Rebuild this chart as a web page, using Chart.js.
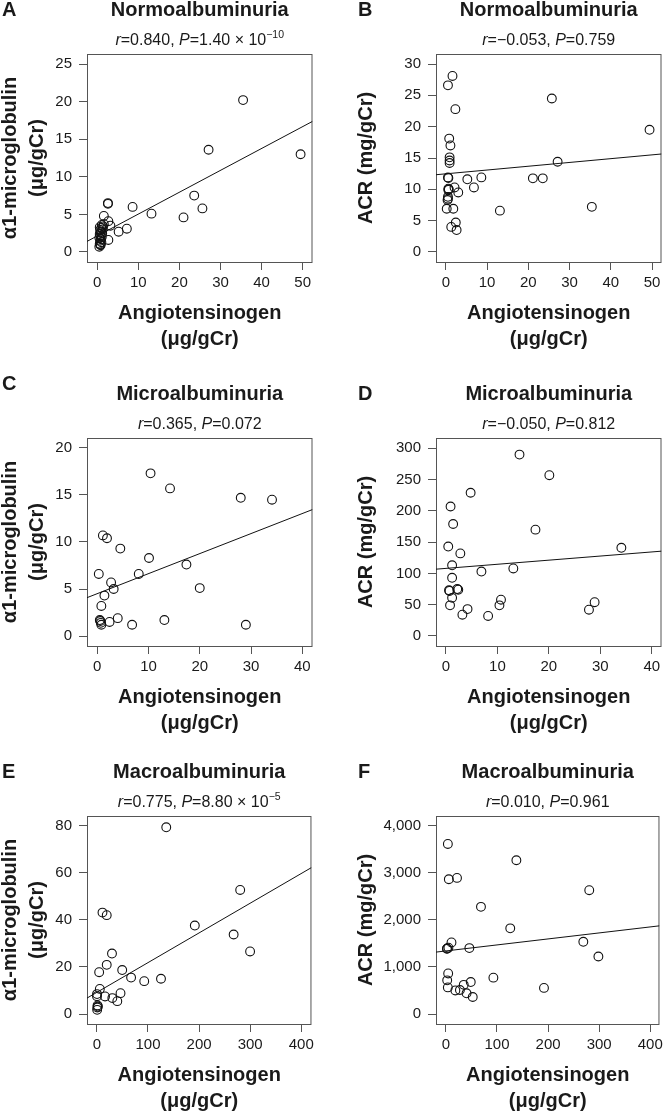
<!DOCTYPE html>
<html>
<head>
<meta charset="utf-8">
<script src="https://cdn.jsdelivr.net/npm/chart.js@4.4.1/dist/chart.umd.min.js"></script>
<style>
  html, body { margin: 0; padding: 0; background: #fff; overflow: hidden; }
  #page { position: relative; width: 667px; height: 1111px; overflow: hidden; }
  #page canvas { position: absolute; }
</style>
</head>
<body>
<div id="page">
  <canvas id="chartA" width="318" height="361" style="left:0;top:-12px"></canvas>
  <canvas id="chartB" width="318" height="361" style="left:349px;top:-12px"></canvas>
  <canvas id="chartC" width="318" height="361" style="left:0;top:372px"></canvas>
  <canvas id="chartD" width="318" height="361" style="left:349px;top:372px"></canvas>
  <canvas id="chartE" width="318" height="361" style="left:0;top:750px"></canvas>
  <canvas id="chartF" width="318" height="361" style="left:349px;top:750px"></canvas>
</div>
<script>
// ---- Data ----

// A: normoalbuminuria, α1-microglobulin vs angiotensinogen
const angA = [35.5, 49.5, 27.1, 23.6, 25.6, 21.0, 13.2, 8.6, 7.2, 5.2, 2.7, 3.2, 2.7, 2.6, 2.6, 1.6,
              0.5, 0.8, 0.6, 1.0, 0.7, 0.9, 0.5, 1.1, 0.8, 0.6, 1.2, 0.9, 0.7, 1.3, 1.0, 0.6, 1.4, 1.1, 0.8, 1.6];
const a1mA = [20.2, 13.0, 13.6, 7.5, 5.8, 4.6, 5.1, 6.0, 3.1, 2.7, 1.6, 3.5, 4.1, 6.4, 6.5, 4.8,
              0.7, 0.9, 1.1, 1.3, 1.5, 1.7, 1.9, 2.0, 2.2, 2.4, 2.5, 2.7, 2.9, 3.0, 3.2, 3.3, 3.4, 3.6, 1.0, 3.7];
const fitXA = [-2.5, 52.4];
const fitYA = [1.41, 17.37];

// B: normoalbuminuria, ACR vs angiotensinogen
const angB = [1.6, 0.5, 2.3, 25.7, 49.4, 0.8, 1.1, 0.9, 0.9, 0.9, 27.1, 0.5, 5.2, 8.6, 21.1, 23.5,
              6.8, 2.1, 0.6, 0.6, 3.0, 0.5, 0.5, 0.4, 13.1, 35.4, 0.2, 1.8, 2.4, 1.3, 2.6, 0.7, 0.6];
const acrB = [28.1, 26.6, 22.8, 24.5, 19.5, 18.1, 17.0, 15.1, 14.6, 14.2, 14.4, 11.9, 11.6, 11.9, 11.75, 11.75,
              10.3, 10.3, 10.1, 9.9, 9.5, 8.8, 8.5, 8.3, 6.6, 7.2, 6.9, 6.9, 4.7, 4.0, 3.5, 10.0, 11.8];
const fitXB = [-2.4, 52.3];
const fitYB = [12.33, 15.64];

// C: microalbuminuria, α1-microglobulin vs angiotensinogen
const angC = [10.4, 14.2, 28.0, 34.1, 1.1, 1.9, 4.5, 10.1, 17.4, 0.3, 8.1, 2.7, 3.2, 20.0, 1.4, 0.8,
              0.5, 0.7, 0.8, 2.4, 4.0, 6.8, 13.1, 29.0, 0.6];
const a1mC = [17.3, 15.7, 14.7, 14.5, 10.7, 10.4, 9.3, 8.3, 7.6, 6.6, 6.6, 5.7, 5.0, 5.1, 4.3, 3.2,
              1.7, 1.4, 1.2, 1.5, 1.9, 1.2, 1.7, 1.2, 1.6];
const fitXC = [-2, 42];
const fitYC = [4.08, 13.45];

// D: microalbuminuria, ACR vs angiotensinogen
const angD = [14.3, 20.1, 4.8, 0.9, 1.4, 17.4, 0.45, 34.1, 2.8, 1.2, 13.1, 6.9, 1.2, 0.6, 0.7, 2.4,
              2.2, 1.2, 10.7, 28.9, 0.8, 10.4, 4.2, 27.8, 3.2, 8.2];
const acrD = [290, 257, 229, 207, 179, 170, 143, 141, 132, 113, 108, 103, 93, 73, 72, 74,
              75, 61, 58, 54, 49, 49, 43, 42, 34, 32];
const fitXD = [-1.93, 41.9];
const fitYD = [106.8, 135.6];

// E: macroalbuminuria, α1-microglobulin vs angiotensinogen
const angE = [135.8, 280.5, 191.7, 267.7, 299.9, 11, 19.3, 29.6, 4.5, 19.3, 49.6, 67, 92.7, 125.5,
              5.8, 0.3, 0.2, 16, 30.3, 46.3, 40, 1.3, 1.0, 0.6, 2.0];
const a1mE = [79.3, 52.7, 37.6, 33.8, 26.6, 43.1, 42, 25.7, 17.8, 20.9, 18.7, 15.5, 14, 15,
              10.7, 8.5, 7.6, 7.5, 6.8, 8.9, 5.5, 3.7, 2.8, 1.8, 3.2];
const fitXE = [-19.3, 420];
const fitYE = [6.8, 62.2];

// F: macroalbuminuria, ACR vs angiotensinogen
const angF = [3.9, 138, 5.8, 21.8, 280.6, 68.7, 126, 11, 269, 2.6, 5, 46, 298.5, 4.5, 93, 2.6,
              48.7, 35, 3.9, 192, 18.6, 27.5, 40.5, 52.6, 2];
const acrF = [3612, 3266, 2863, 2891, 2630, 2276, 1820, 1520, 1534, 1392, 1410, 1400, 1222, 862, 773, 715,
              679, 620, 565, 555, 501, 510, 440, 362, 1385];
const fitXF = [-19.3, 418];
const fitYF = [1315, 1873];

// Tick values
const xTicks50 = [0, 10, 20, 30, 40, 50];
const xTicks40 = [0, 10, 20, 30, 40];
const xTicks400 = [0, 100, 200, 300, 400];
const yTicksA = [0, 5, 10, 15, 20, 25];
const yTicksB = [0, 5, 10, 15, 20, 25, 30];
const yTicksC = [0, 5, 10, 15, 20];
const yTicksD = [0, 50, 100, 150, 200, 250, 300];
const yTicksE = [0, 20, 40, 60, 80];
const yTicksF = [0, 1000, 2000, 3000, 4000];

// ---- Look ----
const FONT = "'Liberation Sans', Arial, Helvetica, sans-serif";
const INK = '#1a1a1a';
const FRAME = '#555555';
const TOP = 12; // spare room above each panel (letter C sits higher)
const CANVAS_W = 318, CANVAS_H = 361;
const PLOT = { left: 87, top: 54 + TOP, right: 314, bottom: 262 + TOP };

// draws a line of text made of parts (italic / superscript) centred on cx
function drawRich(ctx, parts, cx, y) {
    const fontFor = p => p.sup ? `10.5px ${FONT}` : `${p.italic ? 'italic ' : ''}16px ${FONT}`;
    let total = 0;
    parts.forEach(p => { ctx.font = fontFor(p); total += ctx.measureText(p.text).width; });
    let x = cx - total / 2;
    ctx.textAlign = 'left';
    parts.forEach(p => {
        ctx.font = fontFor(p);
        ctx.fillText(p.text, x, p.sup ? y - 6.5 : y);
        x += ctx.measureText(p.text).width;
    });
}

// frame, panel letter, titles and axis titles
const panelDecor = {
    id: 'panelDecor',
    beforeDatasetsDraw(chart) {
        const { ctx, chartArea: a } = chart;
        ctx.save();
        ctx.strokeStyle = FRAME;
        ctx.lineWidth = 1;
        ctx.strokeRect(a.left + 0.5, a.top + 0.5, a.right - a.left - 1, a.bottom - a.top);
        ctx.restore();
    },
    afterDraw(chart, args, o) {
        const { ctx, chartArea: a } = chart;
        const cx = (a.left + a.right) / 2;
        const cy = (a.top + a.bottom) / 2;
        ctx.save();
        ctx.fillStyle = INK;
        ctx.textBaseline = 'alphabetic';

        ctx.font = `bold 20px ${FONT}`;
        ctx.textAlign = 'left';
        ctx.fillText(o.letter, o.letterX, TOP + o.letterY);

        ctx.textAlign = 'center';
        ctx.fillText(o.title, cx, TOP + 15.5);

        drawRich(ctx, o.stat, cx, TOP + 44.5);

        ctx.font = `bold 20px ${FONT}`;
        ctx.textAlign = 'center';
        ctx.fillText('Angiotensinogen', cx, TOP + 319);
        ctx.fillText('(\u03bcg/gCr)', cx, TOP + 345);

        ctx.translate(0, cy);
        ctx.rotate(-Math.PI / 2);
        ctx.textBaseline = 'middle';
        o.yTitle.forEach((line, i) => ctx.fillText(line, 0, o.yTitleX[i]));
        ctx.restore();
    }
};

function axisOptions(range, ticks, isX) {
    return {
        type: 'linear',
        min: range[0],
        max: range[1],
        afterBuildTicks: scale => { scale.ticks = ticks.map(v => ({ value: v })); },
        afterFit: scale => {
            if (isX) scale.height = CANVAS_H - PLOT.bottom;
            else scale.width = PLOT.left;
        },
        grid: { display: true, drawOnChartArea: false, drawTicks: true, tickLength: 8, color: FRAME, lineWidth: 1 },
        border: { display: false },
        ticks: {
            color: INK,
            font: { family: FONT, size: 15 },
            padding: isX ? 4 : 7,
            maxRotation: 0,
            autoSkip: false,
            callback: v => v.toLocaleString('en-US')
        }
    };
}

function makePanel(p) {
    const ctx = document.getElementById(p.id).getContext('2d');
    return new Chart(ctx, {
        type: 'scatter',
        data: {
            datasets: [
                {
                    data: p.x.map((x, i) => ({ x: x, y: p.y[i] })),
                    pointRadius: 4.4,
                    pointBorderWidth: 1.1,
                    pointBorderColor: '#111',
                    pointBackgroundColor: 'rgba(0,0,0,0)',
                    showLine: false
                },
                {
                    type: 'line',
                    data: p.fitX.map((x, i) => ({ x: x, y: p.fitY[i] })),
                    borderColor: '#111',
                    borderWidth: 1,
                    pointRadius: 0,
                    fill: false
                }
            ]
        },
        options: {
            responsive: false,
            animation: false,
            events: [],
            layout: { padding: { left: 0, top: PLOT.top, right: CANVAS_W - PLOT.right, bottom: 0 } },
            plugins: {
                legend: { display: false },
                tooltip: { enabled: false },
                panelDecor: {
                    letter: p.letter, letterX: p.letterX, letterY: p.letterY,
                    title: p.title, stat: p.stat,
                    yTitle: p.yTitle, yTitleX: p.yTitleX
                }
            },
            scales: {
                x: axisOptions(p.xRange, p.xTicks, true),
                y: axisOptions(p.yRange, p.yTicks, false)
            }
        },
        plugins: [panelDecor]
    });
}

const a1mTitle = ['\u03b11-microglobulin', '(\u03bcg/gCr)'];
const acrTitle = ['ACR (mg/gCr)'];

const panels = [
    { id: 'chartA', letter: 'A', letterX: 2, letterY: 15.5, title: 'Normoalbuminuria',
      stat: [{ text: 'r', italic: true }, { text: '=0.840, ' }, { text: 'P', italic: true }, { text: '=1.40 \u00d7 10' }, { text: '\u221210', sup: true }],
      x: angA, y: a1mA, fitX: fitXA, fitY: fitYA, xRange: [-2.5, 52.4], yRange: [-1.33, 26.33],
      xTicks: xTicks50, yTicks: yTicksA, yTitle: a1mTitle, yTitleX: [10, 37] },
    { id: 'chartB', letter: 'B', letterX: 9, letterY: 15.5, title: 'Normoalbuminuria',
      stat: [{ text: 'r', italic: true }, { text: '=\u22120.053, ' }, { text: 'P', italic: true }, { text: '=0.759' }],
      x: angB, y: acrB, fitX: fitXB, fitY: fitYB, xRange: [-2.4, 52.3], yRange: [-1.6, 31.6],
      xTicks: xTicks50, yTicks: yTicksB, yTitle: acrTitle, yTitleX: [17.5] },
    { id: 'chartC', letter: 'C', letterX: 2, letterY: 6, title: 'Microalbuminuria',
      stat: [{ text: 'r', italic: true }, { text: '=0.365, ' }, { text: 'P', italic: true }, { text: '=0.072' }],
      x: angC, y: a1mC, fitX: fitXC, fitY: fitYC, xRange: [-2, 42], yRange: [-1.06, 21.06],
      xTicks: xTicks40, yTicks: yTicksC, yTitle: a1mTitle, yTitleX: [10, 37] },
    { id: 'chartD', letter: 'D', letterX: 9, letterY: 16, title: 'Microalbuminuria',
      stat: [{ text: 'r', italic: true }, { text: '=\u22120.050, ' }, { text: 'P', italic: true }, { text: '=0.812' }],
      x: angD, y: acrD, fitX: fitXD, fitY: fitYD, xRange: [-1.93, 41.9], yRange: [-16, 316.5],
      xTicks: xTicks40, yTicks: yTicksD, yTitle: acrTitle, yTitleX: [17.5] },
    { id: 'chartE', letter: 'E', letterX: 2, letterY: 16, title: 'Macroalbuminuria',
      stat: [{ text: 'r', italic: true }, { text: '=0.775, ' }, { text: 'P', italic: true }, { text: '=8.80 \u00d7 10' }, { text: '\u22125', sup: true }],
      x: angE, y: a1mE, fitX: fitXE, fitY: fitYE, xRange: [-19.3, 420], yRange: [-4.2, 84.1],
      xTicks: xTicks400, yTicks: yTicksE, yTitle: a1mTitle, yTitleX: [10, 37] },
    { id: 'chartF', letter: 'F', letterX: 9, letterY: 16, title: 'Macroalbuminuria',
      stat: [{ text: 'r', italic: true }, { text: '=0.010, ' }, { text: 'P', italic: true }, { text: '=0.961' }],
      x: angF, y: acrF, fitX: fitXF, fitY: fitYF, xRange: [-19.3, 418], yRange: [-212, 4206],
      xTicks: xTicks400, yTicks: yTicksF, yTitle: acrTitle, yTitleX: [17.5] }
];

panels.forEach(makePanel);
</script>
</body>
</html>
